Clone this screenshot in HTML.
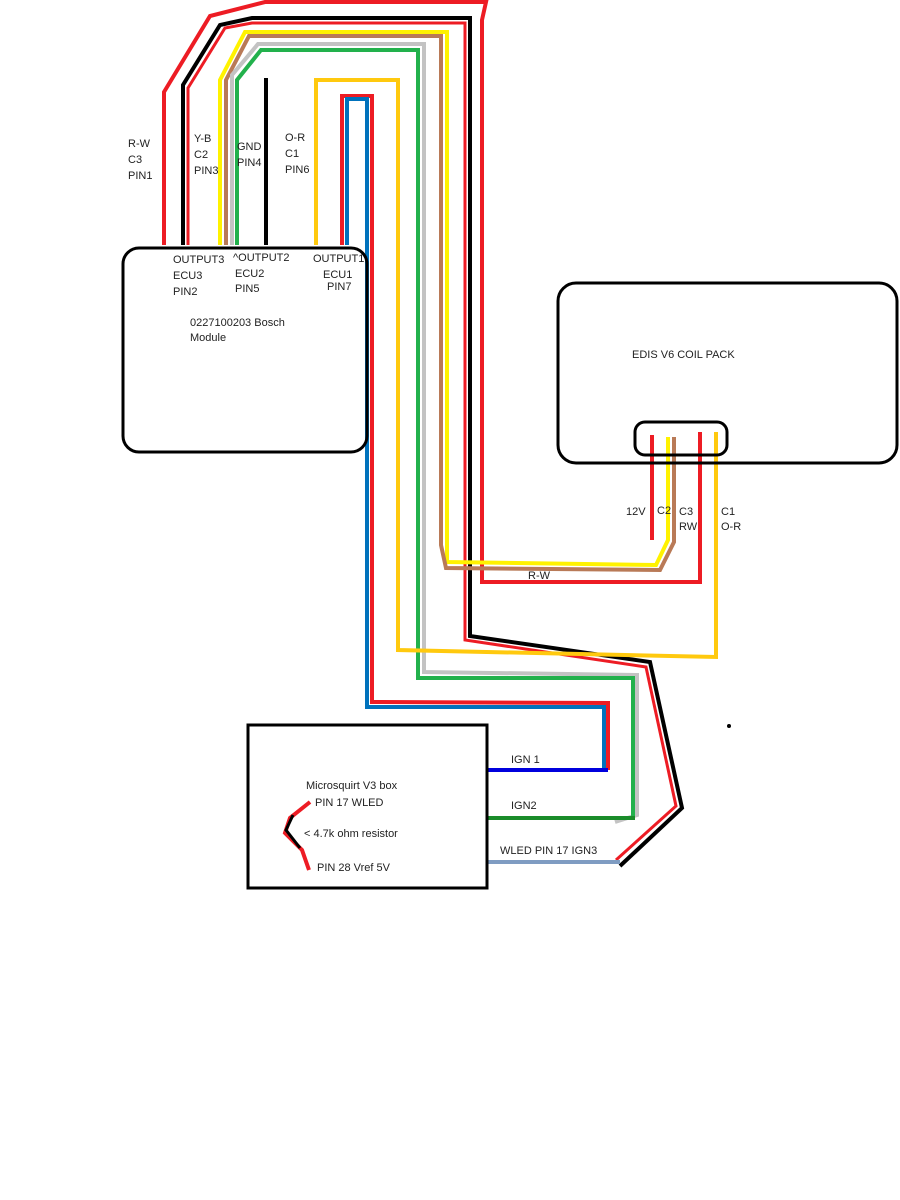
<!DOCTYPE html>
<html><head><meta charset="utf-8"><style>
html,body{margin:0;padding:0;background:#fff;}
svg{display:block;}
text{font-family:"Liberation Sans",sans-serif;font-size:11px;fill:#222;}
</style></head><body>
<svg width="900" height="1200" viewBox="0 0 900 1200" xmlns="http://www.w3.org/2000/svg">
<rect width="900" height="1200" fill="#fff"/>
<g fill="none" stroke-linejoin="miter" stroke-width="4">
<!-- outer red R-W -->
<polyline stroke="#ed1c24" points="164,245 164,92 210,16 265,2 486,2 482,20 482,582 700,582 700,432"/>
<!-- black Y-B -->
<polyline stroke="#000" points="183,245 183,85 220,25 252,18 470,18 470,636 650,662 682,808 620,866"/>
<!-- red along black -->
<polyline stroke="#ed1c24" points="188,245 188,88 225,28 252,23 465,23 465,640 646,667 676,806 616,860" stroke-width="3"/>
<!-- yellow -->
<polyline stroke="#fff200" points="220,245 220,80 245,32 447,32 447,562 656,565 668,540 668,437"/>
<!-- brown -->
<polyline stroke="#b97a57" points="226,245 226,80 249,36 441,36 441,545 446,568 660,570 674,542 674,437"/>
<!-- gray -->
<polyline stroke="#c3c3c3" points="232,245 232,75 258,44 424,44 424,672 637,675 637,815 615,822"/>
<!-- green -->
<polyline stroke="#22b14c" points="237,245 237,80 261,50 418,50 418,678 633,678 633,820"/>
<!-- GND -->
<polyline stroke="#000" points="266,245 266,78"/>
<!-- orange-yellow -->
<polyline stroke="#ffc90e" points="316,245 316,80 398,80 398,650 716,657 716,432"/>
<!-- ECU1 red/blue -->
<polyline stroke="#ed1c24" points="342,245 342,96 372,96 372,702 608,703 608,770"/>
<polyline stroke="#0072bc" points="347,245 347,99 367,99 367,707 604,707 604,770"/>
<!-- coil pins -->
<line stroke="#ed1c24" x1="652" y1="435" x2="652" y2="540"/>
<line stroke="#ed1c24" x1="700" y1="432" x2="700" y2="582"/>
<!-- IGN lines -->
<line stroke="#0000dd" x1="487" y1="770" x2="608" y2="770"/>
<line stroke="#1a8c2a" x1="487" y1="818" x2="635" y2="818"/>
<line stroke="#7f9cc2" x1="487" y1="862" x2="620" y2="862"/>
<!-- resistor -->
<polyline stroke="#ed1c24" points="310,802 290,818 285,833 302,850 309,870"/>
<polyline stroke="#000" points="293,815 286,830 300,848" stroke-width="3"/>
</g>
<!-- boxes -->
<rect x="123" y="248" width="244" height="204" rx="16" fill="none" stroke="#000" stroke-width="3"/>
<rect x="558" y="283" width="339" height="180" rx="18" fill="none" stroke="#000" stroke-width="3"/>
<rect x="635" y="422" width="92" height="33" rx="10" fill="none" stroke="#000" stroke-width="3"/>
<rect x="248" y="725" width="239" height="163" fill="none" stroke="#000" stroke-width="3"/>
<circle cx="729" cy="726" r="2" fill="#000"/>
<!-- labels -->
<text x="128" y="147">R-W</text><text x="128" y="163">C3</text><text x="128" y="179">PIN1</text>
<text x="194" y="142">Y-B</text><text x="194" y="158">C2</text><text x="194" y="174">PIN3</text>
<text x="237" y="150">GND</text><text x="237" y="166">PIN4</text>
<text x="285" y="141">O-R</text><text x="285" y="157">C1</text><text x="285" y="173">PIN6</text>
<text x="173" y="263">OUTPUT3</text><text x="173" y="279">ECU3</text><text x="173" y="295">PIN2</text>
<text x="233" y="261">^OUTPUT2</text><text x="235" y="277">ECU2</text><text x="235" y="292">PIN5</text>
<text x="313" y="262">OUTPUT1</text><text x="323" y="278">ECU1</text><text x="327" y="290">PIN7</text>
<text x="190" y="326">0227100203 Bosch</text><text x="190" y="341">Module</text>
<text x="632" y="358">EDIS V6 COIL PACK</text>
<text x="626" y="515">12V</text><text x="657" y="514">C2</text>
<text x="679" y="515">C3</text><text x="679" y="530">RW</text>
<text x="721" y="515">C1</text><text x="721" y="530">O-R</text>
<text x="528" y="579">R-W</text>
<text x="511" y="763">IGN 1</text>
<text x="511" y="809">IGN2</text>
<text x="500" y="854">WLED PIN 17 IGN3</text>
<text x="306" y="789">Microsquirt V3 box</text>
<text x="315" y="806">PIN 17 WLED</text>
<text x="304" y="837">&lt; 4.7k ohm resistor</text>
<text x="317" y="871">PIN 28 Vref 5V</text>
</svg>
</body></html>
